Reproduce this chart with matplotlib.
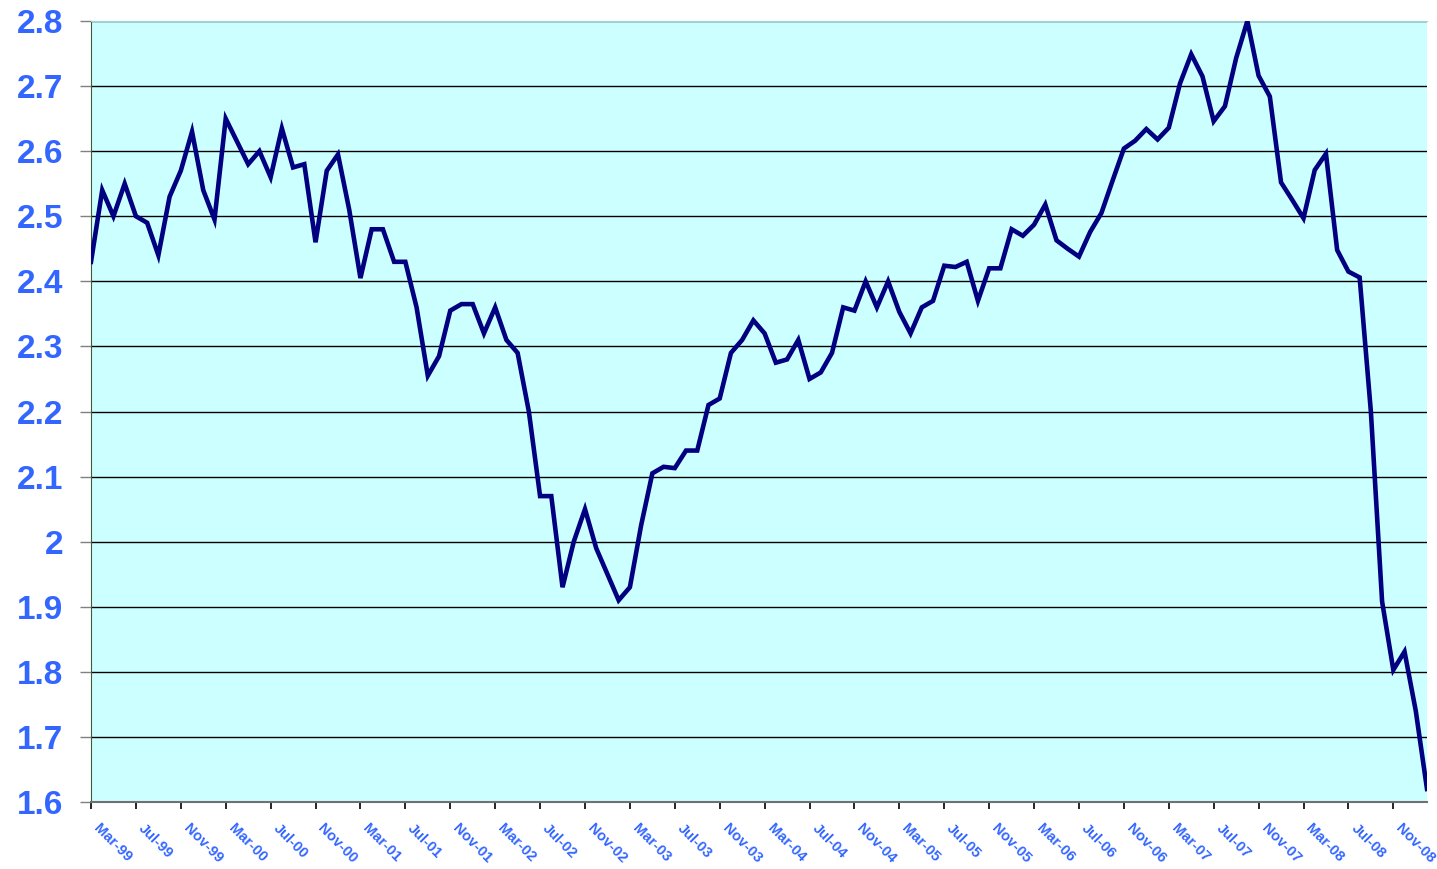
import numpy as np
import matplotlib.pyplot as plt
from matplotlib.transforms import ScaledTranslation

# monthly values, Mar-99 .. Feb-09
values = [
    2.43, 2.54, 2.50, 2.55, 2.50, 2.49, 2.44, 2.53, 2.57, 2.63,
    2.54, 2.495, 2.65, 2.615, 2.58, 2.60, 2.56, 2.635, 2.575, 2.58,
    2.46, 2.57, 2.595, 2.51, 2.405, 2.48, 2.48, 2.43, 2.43, 2.36,
    2.255, 2.285, 2.355, 2.365, 2.365, 2.32, 2.36, 2.31, 2.29, 2.20,
    2.07, 2.07, 1.93, 2.00, 2.05, 1.99, 1.95, 1.91, 1.93, 2.025,
    2.105, 2.115, 2.113, 2.14, 2.14, 2.21, 2.22, 2.29, 2.31, 2.34,
    2.32, 2.275, 2.28, 2.31, 2.25, 2.26, 2.29, 2.36, 2.355, 2.40,
    2.36, 2.40, 2.353, 2.32, 2.36, 2.37, 2.424, 2.422, 2.43, 2.37,
    2.42, 2.42, 2.48, 2.47, 2.487, 2.518, 2.463, 2.45, 2.438, 2.476,
    2.505, 2.555, 2.604, 2.616, 2.634, 2.618, 2.636, 2.704, 2.749, 2.715,
    2.646, 2.669, 2.743, 2.80, 2.716, 2.684, 2.552, 2.525, 2.497, 2.571,
    2.596, 2.448, 2.415, 2.406, 2.20, 1.908, 1.803, 1.831, 1.74, 1.62,
]

month_labels = [
    'Mar-99', 'Jul-99', 'Nov-99', 'Mar-00', 'Jul-00', 'Nov-00',
    'Mar-01', 'Jul-01', 'Nov-01', 'Mar-02', 'Jul-02', 'Nov-02',
    'Mar-03', 'Jul-03', 'Nov-03', 'Mar-04', 'Jul-04', 'Nov-04',
    'Mar-05', 'Jul-05', 'Nov-05', 'Mar-06', 'Jul-06', 'Nov-06',
    'Mar-07', 'Jul-07', 'Nov-07', 'Mar-08', 'Jul-08', 'Nov-08',
]

y_ticks = [1.6, 1.7, 1.8, 1.9, 2.0, 2.1, 2.2, 2.3, 2.4, 2.5, 2.6, 2.7, 2.8]

blue = '#3366ff'

plt.rcParams['font.family'] = ['Liberation Sans', 'DejaVu Sans']

fig = plt.figure(figsize=(14.37, 8.69), dpi=100)
ax = fig.add_axes([91/1437, 1 - 802/869, (1427 - 91)/1437, (802 - 21)/869])
ax.set_facecolor('#ccffff')

x = np.arange(len(values))
ax.plot(x, values, color='#000080', lw=3.3, solid_joinstyle='miter', zorder=3)

ax.set_xlim(0, len(values) - 1)
ax.set_ylim(1.6, 2.8)

ax.set_yticks(y_ticks)
ax.set_yticklabels(['%g' % v for v in y_ticks])
ax.yaxis.grid(True, color='black', lw=1.0)
ax.set_axisbelow(True)

ax.set_xticks(x[::4][:len(month_labels)])
ax.set_xticklabels(month_labels, rotation=-45, ha='left', va='top',
                   rotation_mode='anchor')

ax.tick_params(axis='y', direction='out', length=8, width=1, color='#808080',
               pad=12, labelsize=24, labelcolor=blue)
ax.tick_params(axis='x', direction='out', length=5, width=1.2, color='black',
               pad=9, labelsize=10.5, labelcolor=blue)
for lbl in ax.get_yticklabels() + ax.get_xticklabels():
    lbl.set_fontweight('bold')

# nudge the slanted month labels to the right of their ticks
shift = ScaledTranslation(7/72, 0, fig.dpi_scale_trans)
for lbl in ax.get_xticklabels():
    lbl.set_transform(lbl.get_transform() + shift)

ax.spines['left'].set_color('#3d5c3d')
ax.spines['bottom'].set_color('#707070')
ax.spines['bottom'].set_linewidth(1.5)
ax.spines['top'].set_color('#9fd6d6')
ax.spines['right'].set_visible(False)

fig.savefig('out.png', dpi=100, facecolor='white')
